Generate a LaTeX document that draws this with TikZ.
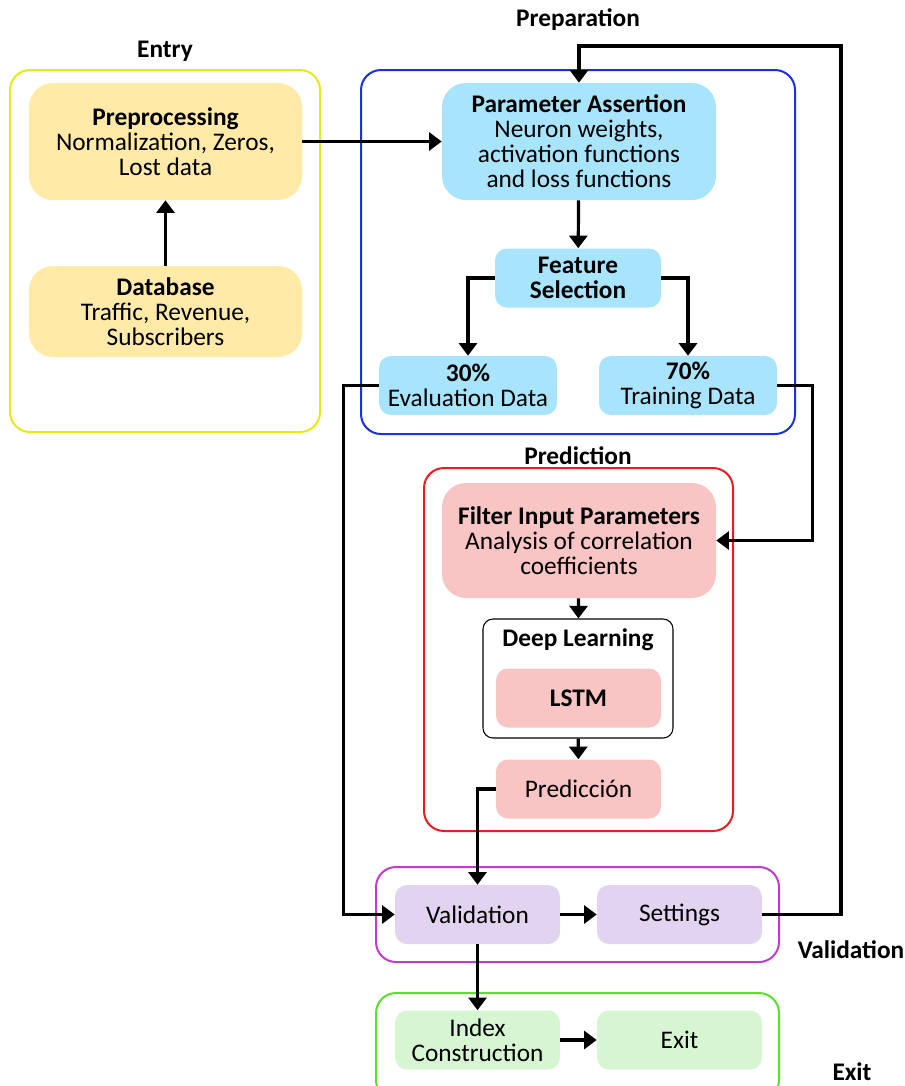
\documentclass[tikz,border=0pt]{standalone}
\usepackage{fontspec}
\setmainfont{Carlito}
\usetikzlibrary{arrows.meta,positioning}

\definecolor{entryfill}{HTML}{FFEAA8}
\definecolor{entryline}{HTML}{E2EC10}
\definecolor{prepfill}{HTML}{A8E4FC}
\definecolor{prepline}{HTML}{1A30E8}
\definecolor{predfill}{HTML}{F8C4C4}
\definecolor{predline}{HTML}{EC1C1C}
\definecolor{validfill}{HTML}{E2D4F0}
\definecolor{validline}{HTML}{C23CCB}
\definecolor{exitfill}{HTML}{D6F6D2}
\definecolor{exitline}{HTML}{58E02A}

\tikzset{
  box/.style={rounded corners=18pt, align=center, inner sep=0pt},
  smallbox/.style={rounded corners=9pt, align=center, inner sep=0pt,
    minimum width=123.75pt, minimum height=44.25pt},
  group/.style={line width=1.5pt, rounded corners=15pt},
  flow/.style={line width=2.4pt, -{Triangle[width=13.5pt,length=9.5pt]}},
  title/.style={font=\fontsize{19}{18.75}\selectfont\bfseries}
}

\begin{document}
\begin{tikzpicture}[x=0.75pt, y=-0.75pt, font=\fontsize{19}{18.75}\selectfont]
  \useasboundingbox (0,0) rectangle (905,1086);

  % group frames
  \draw[group, entryline] (10,70) rectangle (320,432);
  \draw[group, prepline] (361,70) rectangle (795,434);
  \draw[group, predline] (424,468) rectangle (733,831);
  \draw[group, validline] (376,867) rectangle (779,962);
  \draw[group, exitline] (376,993) rectangle (779,1100);

  \node[title] (entrytitle) at (165,51) {Entry};
  \node[title] (preptitle) at (578,20) {Preparation};
  \node[title] (predtitle) at (578,456) {Prediction};
  \node[title] (validtitle) at (851,950) {Validation};
  \node[title] (exittitle) at (852,1072) {Exit};

  % entry
  \node[box, fill=entryfill, minimum width=204.75pt, minimum height=87.75pt]
    (preproc) at (165.5,141.5)
    {\textbf{Preprocessing}\\Normalization, Zeros,\\Lost data};
  \node[box, fill=entryfill, minimum width=204.75pt, minimum height=68.25pt]
    (database) at (165.5,311.5)
    {\textbf{Database}\\Traffic, Revenue,\\Subscribers};

  % preparation
  \node[box, fill=prepfill, minimum width=205.5pt, minimum height=87.75pt]
    (param) at (579,141.5)
    {\textbf{Parameter Assertion}\\Neuron weights,\\activation functions\\and loss functions};
  \node[smallbox, fill=prepfill, minimum width=124.5pt]
    (feature) at (578,278) {\textbf{Feature}\\\textbf{Selection}};
  \node[smallbox, fill=prepfill, minimum width=133.5pt]
    (evaldata) at (468,385.5) {\textbf{30\%}\\Evaluation Data};
  \node[smallbox, fill=prepfill, minimum width=133.5pt]
    (traindata) at (688,385.5) {\textbf{70\%}\\Training Data};

  % prediction
  \node[box, fill=predfill, minimum width=205.5pt, minimum height=86.25pt]
    (filter) at (579,540.5)
    {\textbf{Filter Input Parameters}\\Analysis of correlation\\coefficients};
  \node[draw, line width=0.8pt, rounded corners=7.5pt, minimum width=142.5pt,
    minimum height=89.25pt] (deep) at (578,678.5) {};
  \node[title] (deeptitle) at (578,640) {Deep Learning};
  \node[smallbox, fill=predfill] (lstm) at (578.5,698) {\textbf{LSTM}};
  \node[smallbox, fill=predfill] (predic) at (578.5,789) {Predicción};

  % validation and exit
  \node[smallbox, fill=validfill] (valid) at (477.5,914.5) {Validation};
  \node[smallbox, fill=validfill] (settings) at (679.5,914.5) {Settings};
  \node[smallbox, fill=exitfill] (index) at (477.5,1040) {Index\\Construction};
  \node[smallbox, fill=exitfill] (exitbox) at (679.5,1040) {Exit};

  \coordinate (loop) at (841,46);

  % connectors
  \draw[flow] (database) -- (preproc);
  \draw[flow] (preproc) -- (param);
  \draw[flow] (param) -- (feature);
  \draw[flow] (feature.west) -| (evaldata.north);
  \draw[flow] (feature.east) -| (traindata.north);
  \draw[flow] (evaldata.west) -- ++(-35,0) |- (valid.west);
  \draw[flow] (traindata.east) -- ++(35,0) |- (filter.east);
  \draw[flow] (filter) -- (deep);
  \draw[flow] (deep) -- (predic);
  \draw[flow] (predic.west) -| (valid.north);
  \draw[flow] (valid) -- (settings);
  \draw[flow] (settings.east) -| (loop) -| (param.north);
  \draw[flow] (valid) -- (index);
  \draw[flow] (index) -- (exitbox);
\end{tikzpicture}
\end{document}
